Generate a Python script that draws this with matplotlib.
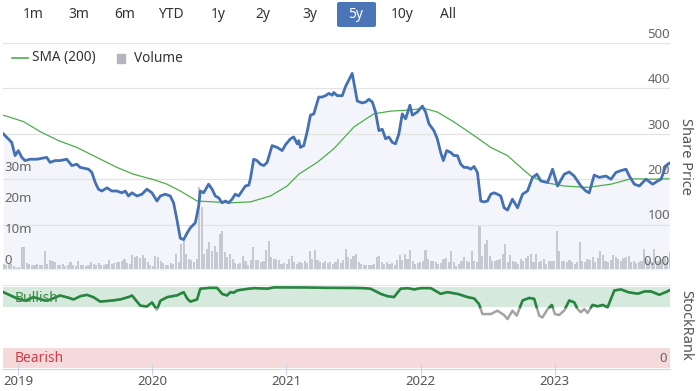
import matplotlib
matplotlib.use("Agg")
import matplotlib.pyplot as plt
from matplotlib.lines import Line2D
from matplotlib.patches import FancyBboxPatch, Rectangle
import numpy as np

plt.rcParams["font.family"] = ["Noto Sans", "DejaVu Sans"]

# share price (decimal year, price)
price_t = [2018.890, 2018.953, 2018.978, 2019.002, 2019.028, 2019.052, 2019.090, 2019.140,
           2019.214, 2019.239, 2019.276, 2019.313, 2019.363, 2019.401, 2019.438, 2019.463,
           2019.525, 2019.550, 2019.575, 2019.599, 2019.625, 2019.662, 2019.699, 2019.737,
           2019.774, 2019.799, 2019.823, 2019.849, 2019.886, 2019.923, 2019.960, 2019.998,
           2020.035, 2020.060, 2020.097, 2020.134, 2020.159, 2020.184, 2020.209, 2020.234,
           2020.259, 2020.284, 2020.321, 2020.346, 2020.358, 2020.383, 2020.420, 2020.446,
           2020.470, 2020.495, 2020.520, 2020.545, 2020.569, 2020.595, 2020.619, 2020.644,
           2020.669, 2020.694, 2020.719, 2020.731, 2020.756, 2020.781, 2020.806, 2020.831,
           2020.856, 2020.893, 2020.931, 2020.968, 2020.993, 2021.030, 2021.054, 2021.080,
           2021.092, 2021.104, 2021.129, 2021.154, 2021.179, 2021.204, 2021.241, 2021.266,
           2021.291, 2021.316, 2021.341, 2021.353, 2021.378, 2021.416, 2021.440, 2021.490,
           2021.515, 2021.528, 2021.565, 2021.590, 2021.614, 2021.640, 2021.664, 2021.689,
           2021.714, 2021.739, 2021.763, 2021.789, 2021.813, 2021.838, 2021.863, 2021.888,
           2021.920, 2021.938, 2021.975, 2022.013, 2022.037, 2022.062, 2022.099, 2022.124,
           2022.149, 2022.169, 2022.194, 2022.224, 2022.249, 2022.274, 2022.299, 2022.323,
           2022.349, 2022.373, 2022.398, 2022.423, 2022.448, 2022.472, 2022.498, 2022.522,
           2022.547, 2022.572, 2022.597, 2022.622, 2022.647, 2022.684, 2022.722, 2022.759,
           2022.796, 2022.834, 2022.866, 2022.896, 2022.946, 2022.983, 2023.020, 2023.070,
           2023.107, 2023.144, 2023.194, 2023.231, 2023.256, 2023.293, 2023.331, 2023.381,
           2023.418, 2023.455, 2023.493, 2023.530, 2023.555, 2023.592, 2023.629, 2023.679,
           2023.729, 2023.766, 2023.791, 2023.828, 2023.851]
price = [300, 281, 252, 263, 248, 241, 244, 244,
         248, 237, 241, 241, 244, 230, 233, 226,
         222, 215, 193, 178, 174, 181, 174, 174,
         170, 174, 163, 170, 163, 167, 178, 170,
         152, 163, 167, 163, 148, 111, 70, 67,
         81, 93, 104, 141, 174, 170, 189, 178,
         163, 159, 148, 152, 148, 156, 167, 163,
         174, 185, 187, 200, 244, 241, 233, 230,
         237, 274, 270, 263, 276, 289, 293, 278,
         285, 270, 274, 304, 341, 344, 381, 381,
         384, 389, 385, 391, 384, 384, 404, 433,
         393, 372, 368, 370, 376, 370, 348, 307,
         310, 289, 293, 281, 278, 300, 344, 333,
         363, 341, 348, 361, 348, 322, 307, 289,
         259, 241, 263, 259, 252, 252, 233, 226,
         226, 222, 228, 215, 152, 150, 152, 167,
         170, 167, 163, 137, 132, 156, 137, 167,
         174, 204, 211, 196, 193, 222, 185, 211,
         216, 207, 185, 174, 170, 209, 204, 207,
         200, 215, 219, 222, 207, 189, 185, 200,
         189, 196, 200, 230, 235]

# 200-day simple moving average
sma_t = [2018.890, 2019.040, 2019.164, 2019.301, 2019.438, 2019.587, 2019.737, 2019.860,
         2020.010, 2020.110, 2020.209, 2020.334, 2020.457, 2020.582, 2020.731, 2020.881,
         2021.005, 2021.092, 2021.229, 2021.353, 2021.478, 2021.502, 2021.651, 2021.776,
         2021.901, 2022.025, 2022.124, 2022.249, 2022.398, 2022.522, 2022.647, 2022.746,
         2022.821, 2022.920, 2023.070, 2023.244, 2023.418, 2023.567, 2023.716, 2023.851]
sma = [341, 327, 305, 285, 270, 248, 226, 211,
       199, 189, 174, 152, 150, 148, 150, 163,
       185, 211, 237, 267, 307, 315, 344, 350,
       352, 356, 348, 326, 296, 270, 252, 226,
       207, 193, 185, 182, 189, 201, 200, 201]

# weekly volume (millions), first week starting late Nov 2018
vol_start = 2018.893
volume_m = [1.6, 1.2, 2.0, 1.6, 1.0, 0.5, 0.8, 7.2, 7.2, 1.8,
            1.5, 1.4, 1.3, 1.5, 1.2, 1.4, 5.9, 1.6, 2.8, 2.5,
            2.4, 1.4, 1.2, 1.6, 1.0, 1.4, 2.2, 1.2, 1.0, 2.6,
            1.4, 1.2, 1.0, 1.4, 2.2, 1.6, 1.2, 1.8, 1.4, 1.2,
            1.6, 3.0, 1.5, 2.0, 2.2, 2.2, 2.6, 3.4, 2.0, 1.6,
            4.6, 3.8, 4.2, 3.6, 4.4, 3.6, 2.4, 1.2, 1.0, 4.3,
            4.0, 2.6, 1.8, 1.2, 1.4, 2.0, 1.6, 5.0, 2.2, 8.0,
            9.1, 4.8, 3.4, 2.8, 2.4, 3.2, 26.5, 19.9, 4.8, 6.5,
            8.6, 5.9, 7.5, 5.4, 11.3, 12.2, 5.4, 3.8, 4.8, 3.2,
            2.0, 1.6, 1.8, 4.3, 2.6, 1.4, 2.8, 7.2, 3.0, 2.8,
            2.4, 2.6, 6.1, 9.1, 3.8, 3.2, 3.4, 3.0, 1.6, 2.0,
            1.6, 3.4, 4.3, 2.2, 1.6, 2.4, 2.0, 2.6, 1.8, 5.9,
            3.2, 6.1, 2.8, 2.4, 2.0, 2.6, 1.8, 2.2, 1.6, 2.4,
            3.2, 1.8, 2.8, 6.5, 3.8, 3.2, 4.3, 5.0, 2.2, 1.6,
            1.3, 1.4, 1.3, 1.4, 1.6, 4.0, 4.3, 2.2, 1.6, 2.2,
            1.6, 1.8, 1.4, 2.9, 4.6, 2.9, 4.8, 3.2, 6.1, 2.7,
            1.6, 1.8, 2.2, 2.7, 6.1, 3.2, 2.7, 2.5, 2.2, 1.6,
            1.8, 3.2, 3.5, 2.2, 5.7, 2.2, 1.1, 1.6, 2.5, 4.0,
            2.7, 2.2, 5.7, 2.7, 2.2, 14.0, 4.3, 8.1, 9.4, 4.3,
            2.7, 2.5, 2.9, 3.2, 4.8, 8.1, 2.2, 4.6, 2.7, 2.2,
            1.6, 3.2, 2.7, 3.5, 4.3, 4.8, 2.2, 5.0, 2.2, 2.7,
            3.2, 1.6, 2.7, 2.5, 2.7, 12.2, 5.9, 2.7, 2.7, 2.2,
            2.9, 2.2, 1.6, 2.2, 8.6, 2.7, 2.2, 3.2, 2.9, 3.8,
            2.2, 3.5, 5.9, 4.6, 2.7, 2.2, 2.9, 4.6, 3.8, 3.2,
            2.7, 3.5, 4.0, 4.3, 2.2, 2.7, 1.8, 2.2, 2.7, 6.5,
            3.2, 2.7, 2.2, 6.5, 2.7, 2.5, 3.2, 3.8, 2.2, 5.4]

# StockRank (0-100)
rank_t = [2018.890, 2018.940, 2018.990, 2019.052, 2019.114, 2019.164, 2019.214, 2019.263,
          2019.313, 2019.363, 2019.413, 2019.463, 2019.513, 2019.562, 2019.612, 2019.687,
          2019.761, 2019.823, 2019.849, 2019.886, 2019.910, 2019.960, 2019.998, 2020.035,
          2020.060, 2020.110, 2020.184, 2020.234, 2020.259, 2020.284, 2020.334, 2020.358,
          2020.420, 2020.483, 2020.520, 2020.557, 2020.582, 2020.607, 2020.632, 2020.681,
          2020.756, 2020.856, 2020.905, 2021.104, 2021.254, 2021.453, 2021.577, 2021.627,
          2021.701, 2021.751, 2021.801, 2021.851, 2021.901, 2021.950, 2022.000, 2022.075,
          2022.149, 2022.199, 2022.274, 2022.349, 2022.398, 2022.435, 2022.460, 2022.522,
          2022.572, 2022.622, 2022.647, 2022.684, 2022.716, 2022.759, 2022.808, 2022.846,
          2022.883, 2022.908, 2022.946, 2022.978, 2023.000, 2023.032, 2023.069, 2023.107,
          2023.144, 2023.169, 2023.194, 2023.219, 2023.244, 2023.281, 2023.319, 2023.356,
          2023.393, 2023.443, 2023.493, 2023.543, 2023.617, 2023.667, 2023.716, 2023.778,
          2023.828, 2023.853]
rank = [93.7, 90, 86, 83, 87.5, 85, 83, 86,
        89.6, 87.5, 84.6, 88.7, 90.4, 87.5, 82, 83,
        84.6, 87.5, 89.6, 82, 77, 76, 81, 72,
        83, 87.5, 89.6, 93.7, 86, 82, 84.6, 97.9,
        99, 99, 91.6, 89.6, 93.7, 92.9, 95.8, 97.1,
        98.7, 97.9, 99.6, 99.6, 99, 99, 98.7, 97.9,
        91.6, 88.7, 87.5, 97.9, 98.7, 97, 98.7, 98.7,
        91.6, 93.7, 91.6, 87.5, 86, 79, 66.6, 66.6,
        70.8, 65.4, 60.4, 70.8, 64.6, 83.4, 86.6, 85.4,
        64.6, 62.5, 72.9, 77.9, 66.6, 65.4, 70.8, 83.4,
        81.2, 72.9, 68.8, 72.9, 67.9, 77.9, 76.2, 77.9,
        75, 95.8, 97.1, 93.7, 91.6, 94.6, 94.6, 90.4,
        93.7, 95.8]

years = [2019, 2020, 2021, 2022, 2023]
price_ticks = [0, 100, 200, 300, 400, 500]
vol_ticks = [0, 10, 20, 30]
vol_labels = ["0", "10m", "20m", "30m"]
buttons = ["1m", "3m", "6m", "YTD", "1y", "2y", "3y", "5y", "10y", "All"]
selected = "5y"

BLUE = "#4470b4"
SMA_GREEN = "#4cae4c"
RANK_GREEN = "#22883c"
W, H = 700, 391
X0, X1 = 2018.888, 2023.858


def rect(l, t, r, b):
    # pixel box -> figure fraction
    return [l / W, 1 - b / H, (r - l) / W, (b - t) / H]


def bare(a):
    a.set_xticks([])
    a.set_yticks([])
    for s in a.spines.values():
        s.set_visible(False)


fig = plt.figure(figsize=(7, 3.91), dpi=100)

main = rect(3, 43, 670, 270)
ax_bg = fig.add_axes(main)
ax_vol = fig.add_axes(main)
ax = fig.add_axes(main)
for a in (ax_bg, ax, ax_vol):
    a.set_xlim(X0, X1)
    bare(a)
ax_vol.patch.set_visible(False)
ax.patch.set_visible(False)

# area under price + grid
ax_bg.set_ylim(0, 500)
ax_bg.fill_between(price_t, price, 0, color="#f3f5fa", lw=0)
for v in price_ticks:
    ax_bg.axhline(v, color="#e3e3e3", lw=0.9)

# volume bars
ax_vol.set_ylim(-0.3, 73)
vol_t = vol_start + np.arange(len(volume_m)) * 7 / 365.25
ax_vol.bar(vol_t, volume_m, width=0.0158, color="#c6c9d1", lw=0)
for v, lab in zip(vol_ticks, vol_labels):
    ax_vol.text(0.002, v + 0.8, lab, transform=ax_vol.get_yaxis_transform(),
                ha="left", va="bottom", fontsize=9.5, color="#666666")

# price + SMA
ax.set_ylim(0, 500)
ax.plot(sma_t, sma, color=SMA_GREEN, lw=0.9)
ax.plot(price_t, price, color=BLUE, lw=2.0, solid_joinstyle="round")
for v in price_ticks:
    lab = "0.00" if v == 0 else str(v)
    ax.text(1.0, v + 5, lab, transform=ax.get_yaxis_transform(),
            ha="right", va="bottom", fontsize=9.5, color="#666666", clip_on=False)

# StockRank panel
axr = fig.add_axes(rect(3, 285, 670, 369))
axr.set_xlim(X0, X1)
axr.set_ylim(-1.2, 102.5)
axr.axhspan(75, 100, color="#d5e9dc", lw=0)
axr.axhspan(0, 25, color="#f6d9da", lw=0)
for s in ("left", "right"):
    axr.spines[s].set_visible(False)
axr.spines["top"].set_color("#e6e6e6")
axr.spines["bottom"].set_color("#ccd6eb")
axr.set_yticks([])
axr.set_xticks(years)
axr.set_xticklabels([str(y) for y in years])
axr.tick_params(axis="x", direction="inout", length=8, color="#ccd6eb",
                labelsize=9.5, labelcolor="#555555", pad=0)

tt = np.linspace(rank_t[0], rank_t[-1], 4000)
rr = np.interp(tt, rank_t, rank)
axr.plot(tt, rr, color="#a3a3a3", lw=1.8)
axr.plot(tt, np.where(rr >= 75, rr, np.nan), color=RANK_GREEN, lw=1.8)
axr.text(X0 + 0.09, 86, "Bullish", color="#3c8a44", fontsize=10, va="center")
axr.text(X0 + 0.09, 12, "Bearish", color="#cc3e4a", fontsize=10, va="center")
axr.text(X1 - 0.02, 12, "0", color="#666666", fontsize=9.5, ha="right", va="center")

# axis titles
fig.text(686 / W, 1 - 157 / H, "Share Price", rotation=270, ha="center", va="center",
         fontsize=10.5, color="#555555")
fig.text(686 / W, 1 - 325 / H, "StockRank", rotation=270, ha="center", va="center",
         fontsize=10.5, color="#555555")

# legend
fig.add_artist(Line2D([12 / W, 28 / W], [1 - 58 / H] * 2, color=SMA_GREEN, lw=1.2))
fig.text(32 / W, 1 - 58 / H, "SMA (200)", fontsize=9.8, color="#333333", va="center")
fig.add_artist(Rectangle((117 / W, 1 - 62.5 / H), 8 / W, 8 / H, color="#b4b6bd",
                         transform=fig.transFigure))
fig.text(134 / W, 1 - 58 / H, "Volume", fontsize=9.8, color="#333333", va="center")

# range selector
btn_x = [33, 79, 125, 171, 218, 263, 310, 356, 402, 448]
for bx, lab in zip(btn_x, buttons):
    col = "#333333"
    if lab == selected:
        fig.add_artist(FancyBboxPatch((337 / W, 1 - 27 / H), 39 / W, 25 / H,
                                      boxstyle="round,pad=0,rounding_size=0.004",
                                      transform=fig.transFigure, color="#4a76b8", lw=0))
        col = "white"
    fig.text(bx / W, 1 - 14 / H, lab, ha="center", va="center", fontsize=10, color=col)

fig.savefig("out.png", dpi=100)
